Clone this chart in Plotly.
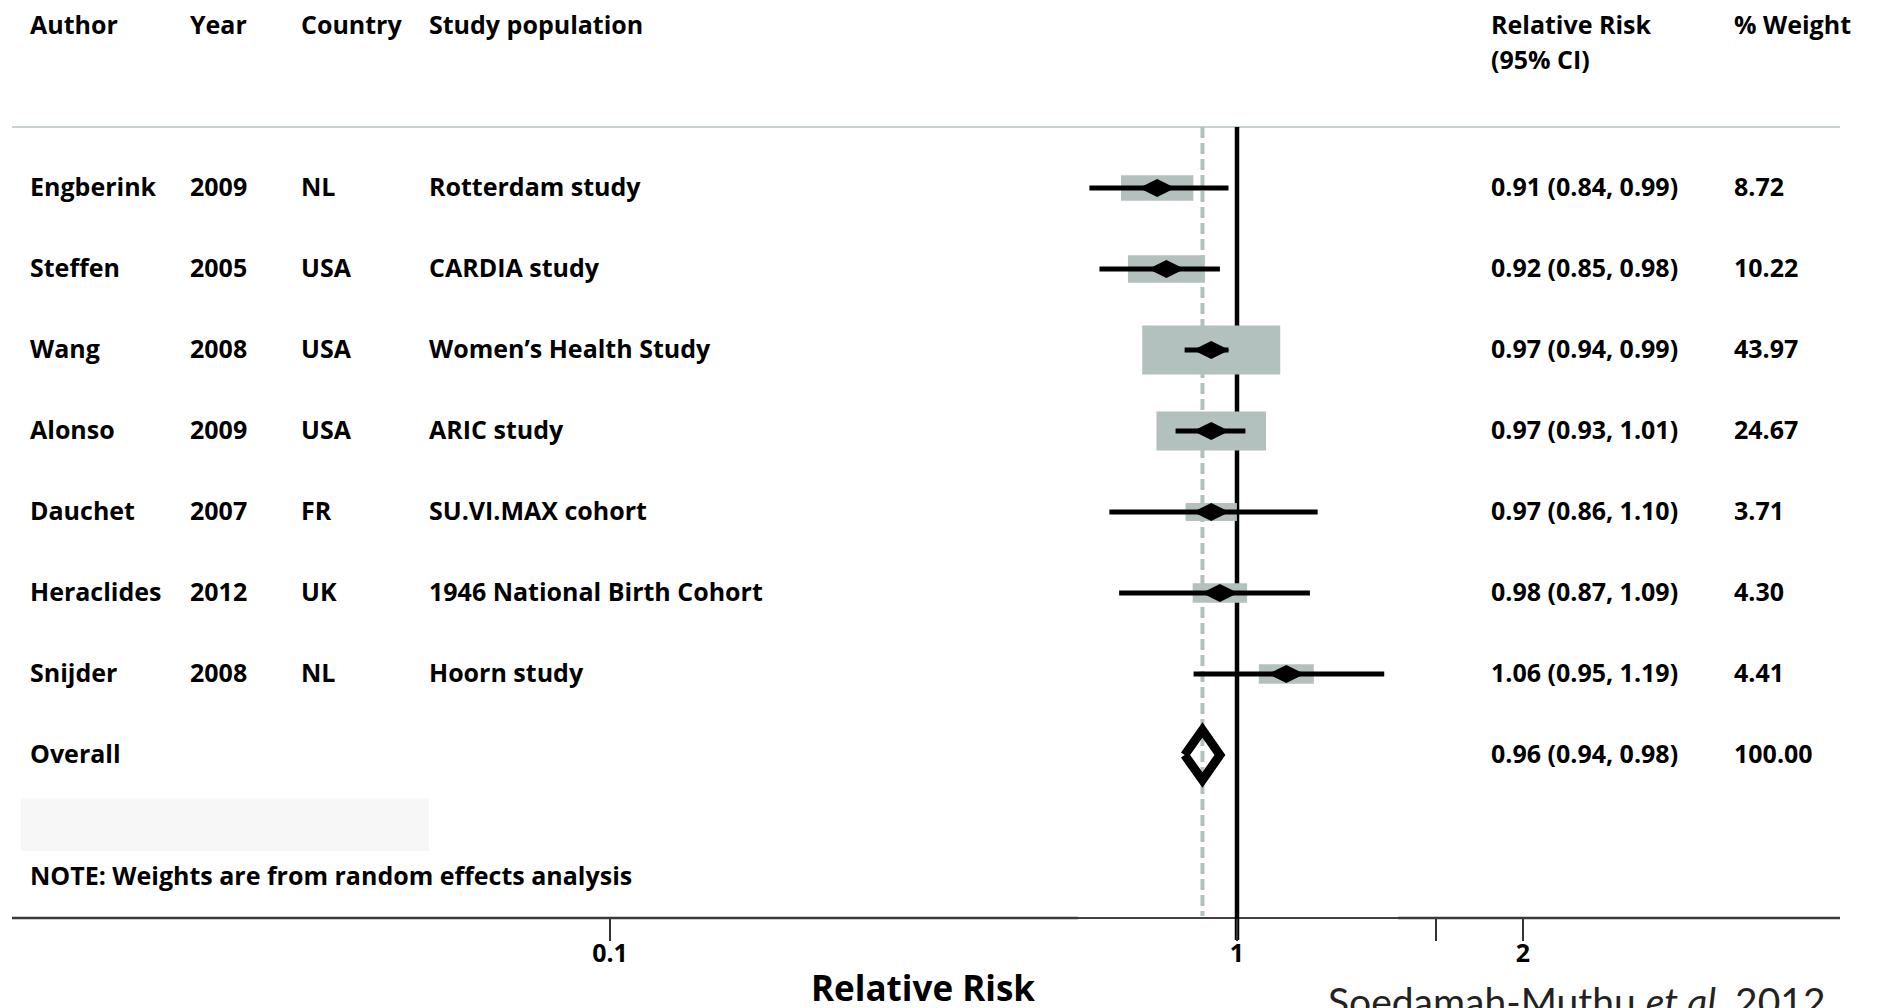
import plotly.graph_objects as go

# ---------------- data ----------------
authors = ["Engberink", "Steffen", "Wang", "Alonso", "Dauchet", "Heraclides", "Snijder"]
years = ["2009", "2005", "2008", "2009", "2007", "2012", "2008"]
countries = ["NL", "USA", "USA", "USA", "FR", "UK", "NL"]
populations = ["Rotterdam study", "CARDIA study", "Women’s Health Study", "ARIC study",
               "SU.VI.MAX cohort", "1946 National Birth Cohort", "Hoorn study"]
rr = [0.91, 0.92, 0.97, 0.97, 0.97, 0.98, 1.06]
ci_low = [0.84, 0.85, 0.94, 0.93, 0.86, 0.87, 0.95]
ci_high = [0.99, 0.98, 0.99, 1.01, 1.10, 1.09, 1.19]
weights = [8.72, 10.22, 43.97, 24.67, 3.71, 4.30, 4.41]

overall_label = "Overall"
overall_rr = 0.96
overall_low = 0.94
overall_high = 0.98
overall_weight = 100.00

headers = ["Author", "Year", "Country", "Study population", "Relative Risk", "% Weight"]
subheaders = ["", "", "", "", "(95% CI)", ""]
note_text = "NOTE: Weights are from random effects analysis"
axis_title = "Relative Risk"
credit_text = "Soedamah-Muthu <i>et al.</i> 2012"
tick_labels = ["0.1", "<b>1</b>", "2", ""]

# ---------------- layout geometry (pixels of the 1877x1008 page) ----------------
W, H = 1877, 1008
X_ONE = 1237.0          # pixel of RR = 1
PPD = 1949.0            # pixels per decade on the log axis
Y0, DY = 188.0, 81.0    # pixel of first row, row spacing
tick_px = [610, 1237, 1523, 1436]   # where the reference prints its tick labels

xrange = [(0 - X_ONE) / PPD, (W - X_ONE) / PPD]
yrange = [(H - Y0) / DY, (0 - Y0) / DY]   # reversed: row 0 at top


def py2y(py):
    return (py - Y0) / DY


def px2xp(px):
    return px / W


def py2yp(py):
    return 1 - py / H


tickvals = [10 ** ((p - X_ONE) / PPD) for p in tick_px]

BOX = "#b3c1be"
FONT = "Open Sans"
n = len(authors)

fig = go.Figure()

# vertical line of no effect and dashed overall line (behind the boxes)
fig.add_trace(go.Scatter(x=[1, 1], y=[py2y(127), py2y(940)], mode="lines",
                         line=dict(color="black", width=4.5), hoverinfo="skip"))
fig.add_trace(go.Scatter(x=[overall_rr, overall_rr], y=[py2y(127), py2y(916)], mode="lines",
                         line=dict(color=BOX, width=4, dash="11px,5px"), hoverinfo="skip"))

# weight boxes
wmax = max(weights)
for i in range(n):
    s = (weights[i] / wmax) ** 0.4
    hw = (138 * s / 2) / PPD
    hh = (49 * s / 2) / DY
    x0, x1 = rr[i] * 10 ** (-hw), rr[i] * 10 ** hw
    fig.add_trace(go.Scatter(x=[x0, x1, x1, x0, x0], y=[i - hh, i - hh, i + hh, i + hh, i - hh],
                             mode="lines", fill="toself", fillcolor=BOX,
                             line=dict(width=0, color=BOX), hoverinfo="skip"))

# confidence intervals
cx, cy = [], []
for i in range(n):
    cx += [ci_low[i], ci_high[i], None]
    cy += [i, i, None]
fig.add_trace(go.Scatter(x=cx, y=cy, mode="lines", line=dict(color="black", width=5),
                         hoverinfo="skip"))

# point estimates
fig.add_trace(go.Scatter(x=rr, y=list(range(n)), mode="markers",
                         marker=dict(symbol="diamond-wide", size=26, color="black"),
                         hoverinfo="skip"))

# overall diamond
dh = 25 / DY
fig.add_trace(go.Scatter(x=[overall_low, overall_rr, overall_high, overall_rr, overall_low],
                         y=[n, n - dh, n, n + dh, n], mode="lines",
                         line=dict(color="black", width=9), hoverinfo="skip"))

# ---------------- text ----------------
ann = []
txt_font = dict(family=FONT, size=25, color="black", weight=700)
col_px = [28, 188, 299, 427, 1489, 1732]

for h, sh, px in zip(headers, subheaders, col_px):
    ann.append(dict(x=px2xp(px), y=py2yp(24), xref="paper", yref="paper", text=h,
                    xanchor="left", yanchor="middle", showarrow=False, font=txt_font))
    if sh:
        ann.append(dict(x=px2xp(px), y=py2yp(59), xref="paper", yref="paper", text=sh,
                        xanchor="left", yanchor="middle", showarrow=False, font=txt_font))

for i in range(n):
    vals = [authors[i], years[i], countries[i], populations[i],
            f"{rr[i]:.2f} ({ci_low[i]:.2f}, {ci_high[i]:.2f})", f"{weights[i]:.2f}"]
    for v, px in zip(vals, col_px):
        ann.append(dict(x=px2xp(px), y=py2yp(Y0 + DY * i - 2), xref="paper", yref="paper", text=v,
                        xanchor="left", yanchor="middle", showarrow=False, font=txt_font))

ovals = [overall_label, f"{overall_rr:.2f} ({overall_low:.2f}, {overall_high:.2f})", f"{overall_weight:.2f}"]
for v, px in zip(ovals, [col_px[0], col_px[4], col_px[5]]):
    ann.append(dict(x=px2xp(px), y=py2yp(Y0 + DY * n - 2), xref="paper", yref="paper", text=v,
                    xanchor="left", yanchor="middle", showarrow=False, font=txt_font))

ann.append(dict(x=px2xp(28), y=py2yp(875), xref="paper", yref="paper", text=note_text,
                xanchor="left", yanchor="middle", showarrow=False, font=txt_font))
ann.append(dict(x=px2xp(923), y=py2yp(987), xref="paper", yref="paper", text=axis_title,
                xanchor="center", yanchor="middle", showarrow=False,
                font=dict(family=FONT, size=35, color="black", weight=700)))
ann.append(dict(x=px2xp(1326), y=py2yp(976), xref="paper", yref="paper", text=credit_text,
                xanchor="left", yanchor="top", showarrow=False,
                font=dict(family="Liberation Sans Narrow, Lato, sans-serif", size=39, color="#222")))

# ---------------- rules ----------------
shapes = [
    dict(type="rect", xref="paper", yref="paper", x0=px2xp(21), x1=px2xp(429),
         y0=py2yp(851), y1=py2yp(798), fillcolor="#f7f7f7", line=dict(width=0), layer="below"),
    dict(type="line", xref="paper", yref="paper", x0=px2xp(12), x1=px2xp(1840),
         y0=py2yp(127), y1=py2yp(127), line=dict(color="#c8d1cf", width=2), layer="below"),
    dict(type="line", xref="paper", yref="paper", x0=px2xp(12), x1=px2xp(1078),
         y0=py2yp(918), y1=py2yp(918), line=dict(color="#3a3a3a", width=2.5)),
    dict(type="line", xref="paper", yref="paper", x0=px2xp(1078), x1=px2xp(1398),
         y0=py2yp(918), y1=py2yp(918), line=dict(color="black", width=1.5)),
    dict(type="line", xref="paper", yref="paper", x0=px2xp(1398), x1=px2xp(1840),
         y0=py2yp(918), y1=py2yp(918), line=dict(color="#3a3a3a", width=2.5)),
]

fig.update_layout(
    width=W, height=H, margin=dict(l=0, r=0, t=0, b=0, pad=0),
    paper_bgcolor="white", plot_bgcolor="white", showlegend=False,
    annotations=ann, shapes=shapes,
    xaxis=dict(type="log", range=xrange, domain=[0, 1], anchor="free", position=py2yp(918),
               showline=False, showgrid=False, zeroline=False, ticks="outside", ticklen=22,
               tickwidth=1.5, tickcolor="#333", tickvals=tickvals, ticktext=tick_labels,
               ticklabelstandoff=-9,
               tickfont=dict(family=FONT, size=25, color="black", weight=700), fixedrange=True),
    yaxis=dict(range=yrange, visible=False, showgrid=False, zeroline=False, fixedrange=True),
)

fig.write_html("out.html")
